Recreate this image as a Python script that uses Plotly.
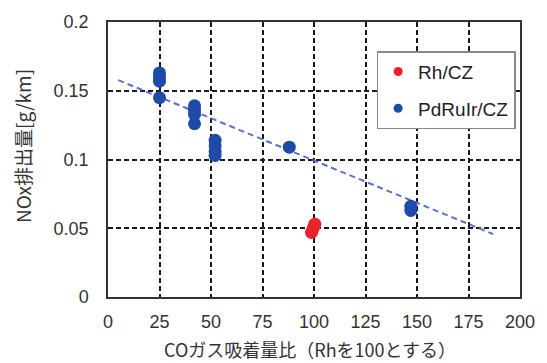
import plotly.graph_objects as go

# CO adsorption ratio (Rh = 100) and NOx emission [g/km]
rh_x = [98.8, 99.6, 100.4]
rh_y = [0.047, 0.050, 0.053]

pd_x = [25, 25, 25, 25, 42, 42, 42, 42, 52, 52, 52, 52, 88, 147, 147]
pd_y = [0.163, 0.160, 0.157, 0.145,
        0.139, 0.136, 0.133, 0.126,
        0.114, 0.110, 0.106, 0.103,
        0.109, 0.066, 0.063]

# linear trend drawn across the data range
trend_x = [5, 187]
trend_y = [0.1577, 0.0457]

x_ticks = [0, 25, 50, 75, 100, 125, 150, 175, 200]
y_ticks = [0, 0.05, 0.1, 0.15, 0.2]
y_ticktext = ["0", "0.05", "0.1", "0.15", "0.2"]

RED = "#e8232b"
BLUE = "#1f4aa8"
LATIN = "Liberation Sans, Arial, sans-serif"
CJK = "Noto Sans CJK JP, sans-serif"
TEXT = "#333333"

fig = go.Figure()

fig.add_trace(go.Scatter(
    x=trend_x, y=trend_y, mode="lines",
    line=dict(color="#5a6fcf", width=2, dash="6px,4px"),
    showlegend=False, hoverinfo="skip"))

fig.add_trace(go.Scatter(
    x=pd_x, y=pd_y, mode="markers",
    marker=dict(color=BLUE, size=13), showlegend=False))
fig.add_trace(go.Scatter(
    x=rh_x, y=rh_y, mode="markers",
    marker=dict(color=RED, size=13), showlegend=False))

# legend entries with smaller symbols
fig.add_trace(go.Scatter(
    x=[None], y=[None], mode="markers", name="Rh/CZ",
    marker=dict(color=RED, size=9), legendgroup="a"))
fig.add_trace(go.Scatter(
    x=[None], y=[None], mode="markers", name="PdRuIr/CZ",
    marker=dict(color=BLUE, size=9), legendgroup="b"))

grid = dict(showgrid=True, gridcolor="#1a1a1a", gridwidth=1.5,
            griddash="5px,3px", zeroline=False,
            showline=True, linecolor="#333333", linewidth=1.5, mirror=True,
            ticks="outside", tickcolor="rgba(0,0,0,0)",
            tickfont=dict(family=LATIN, size=18, color=TEXT))

fig.update_xaxes(range=[0, 200], tickvals=x_ticks, ticklen=8, **grid)
fig.update_yaxes(range=[0, 0.2], tickvals=y_ticks, ticktext=y_ticktext,
                 ticklen=14, **grid)

# axis titles
fig.add_annotation(text="COガス吸着量比（Rhを100とする）",
                   xref="paper", yref="paper", x=0.49, y=-0.19,
                   xanchor="center", yanchor="middle", showarrow=False,
                   font=dict(family=CJK, size=18, color=TEXT))
fig.add_annotation(text="NOx排出量[g/km]", textangle=-90,
                   xref="paper", yref="paper", x=-0.207, y=0.548,
                   xanchor="center", yanchor="middle", showarrow=False,
                   font=dict(family=CJK, size=19, color=TEXT))

fig.update_layout(
    width=547, height=363,
    margin=dict(l=107.5, r=25, t=19.5, b=65.5),
    paper_bgcolor="white", plot_bgcolor="white",
    legend=dict(x=0.652, y=0.894, xanchor="left", yanchor="top",
                bgcolor="white", bordercolor="#888888", borderwidth=1.5,
                font=dict(family=LATIN, size=19, color="#222222"),
                traceorder="grouped", tracegroupgap=9,
                itemwidth=30),
)

fig.write_html("out.html")
